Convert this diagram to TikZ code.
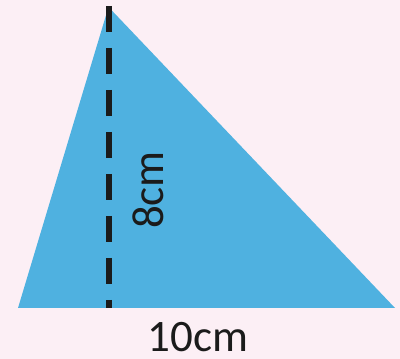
\documentclass[tikz,border=0pt]{standalone}
\usepackage{fontspec}
\setmainfont{Carlito}
\usepackage{tikz}
\usetikzlibrary{calc}
\definecolor{bgpink}{HTML}{FCEFF5}
\definecolor{triblue}{HTML}{4FB1E0}
\definecolor{dashblack}{HTML}{1B1B1B}

\begin{document}
\begin{tikzpicture}[x=1pt, y=1pt,
    label text/.style={font=\fontsize{45}{54}\selectfont, text=dashblack, inner sep=0pt},
    height line/.style={dashblack, line width=6pt, dash pattern=on 26pt off 16pt}]
            \fill[bgpink] (0,0) rectangle (400,359);
            \useasboundingbox (0,0) rectangle (400,359);

            \coordinate (left) at (18,51);
            \coordinate (right) at (395,51);
            \coordinate (apex) at (108.5,352);
            \coordinate (foot) at (108.5,51);
            \fill[triblue] (left) -- (right) -- (apex) -- cycle;

            \draw[height line] ($(apex)+(0,1)$) -- (foot);
            \node[label text, rotate=90] (height) at (148.5,169) {8cm};
            \node[label text] (base) at (198,21.5) {10cm};
        \end{tikzpicture}
\end{document}
